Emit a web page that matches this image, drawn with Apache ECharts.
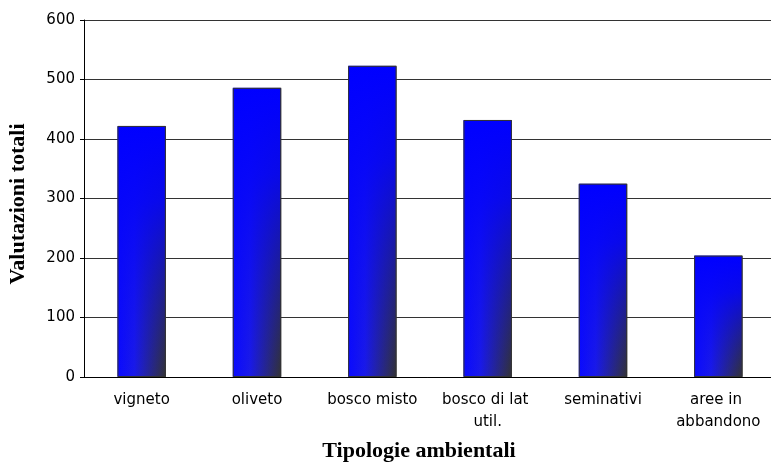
<!DOCTYPE html>
<html>
<head>
<meta charset="utf-8">
<script src="https://cdn.jsdelivr.net/npm/echarts@6/dist/echarts.min.js"></script>
<style>
    html, body { margin: 0; padding: 0; background: #fff; }
    #chart { width: 771px; height: 464px; }
</style>
</head>
<body>
<div id="chart"></div>
<script>
    // dati
    let categorie = ['vigneto', 'oliveto', 'bosco misto', 'bosco di lat util.', 'seminativi', 'aree in abbandono'];
    let valutazioni = [422, 486, 523, 432, 325, 204];
    let yTicks = [0, 100, 200, 300, 400, 500, 600];

    let myChart = echarts.init(document.getElementById('chart'));
    myChart.setOption({
        backgroundColor: '#fff',
        animation: false,
        grid: {
            left: 84,
            right: -5,
            top: 20,
            bottom: 87,
            containLabel: false,
            outerBoundsMode: 'none'
        },
        xAxis: {
            type: 'category',
            data: categorie,
            name: 'Tipologie ambientali',
            nameLocation: 'middle',
            nameGap: 63,
            nameTextStyle: {
                fontFamily: 'Liberation Serif',
                fontWeight: 'bold',
                fontSize: 22,
                color: '#000',
                padding: [0, 22, 0, 0]
            },
            axisLine: { lineStyle: { color: '#000', width: 1 } },
            axisTick: { interval: 0, length: 4, lineStyle: { color: '#000' } },
            axisLabel: {
                interval: 0,
                color: '#000',
                fontFamily: 'DejaVu Sans',
                fontSize: 15,
                margin: 12,
                lineHeight: 22,
                width: 106,
                overflow: 'break'
            }
        },
        yAxis: {
            type: 'value',
            min: yTicks[0],
            max: yTicks[yTicks.length - 1],
            interval: yTicks[1] - yTicks[0],
            name: 'Valutazioni totali',
            nameLocation: 'middle',
            nameGap: 55,
            nameTextStyle: {
                fontFamily: 'Liberation Serif',
                fontWeight: 'bold',
                fontSize: 22,
                color: '#000',
                padding: [0, 11, 0, 0]
            },
            axisLine: { show: true, lineStyle: { color: '#000', width: 1 } },
            axisTick: { show: true, length: 4, lineStyle: { color: '#000' } },
            axisLabel: {
                color: '#000',
                fontFamily: 'DejaVu Sans',
                fontSize: 15,
                margin: 9
            },
            splitLine: { lineStyle: { color: '#333', width: 1 } }
        },
        series: [
            {
                // base: sfumatura orizzontale blu -> grigio scuro
                type: 'bar',
                data: valutazioni,
                barWidth: '42%',
                itemStyle: {
                    color: {
                        type: 'linear',
                        x: 0, y: 0, x2: 1, y2: 0,
                        colorStops: [
                            { offset: 0, color: '#0a0aff' },
                            { offset: 0.35, color: '#1a1ae8' },
                            { offset: 1, color: '#333333' }
                        ]
                    }
                }
            },
            {
                // sovrapposizione: blu pieno in alto che svanisce in basso
                type: 'bar',
                data: valutazioni,
                barWidth: '42%',
                barGap: '-100%',
                silent: true,
                itemStyle: {
                    borderColor: '#333',
                    borderWidth: 1,
                    color: {
                        type: 'linear',
                        x: 0, y: 0, x2: 0, y2: 1,
                        colorStops: [
                            { offset: 0, color: 'rgba(0,0,255,1)' },
                            { offset: 0.3, color: 'rgba(5,5,250,0.9)' },
                            { offset: 1, color: 'rgba(10,10,245,0)' }
                        ]
                    }
                }
            }
        ]
    });
</script>
</body>
</html>
